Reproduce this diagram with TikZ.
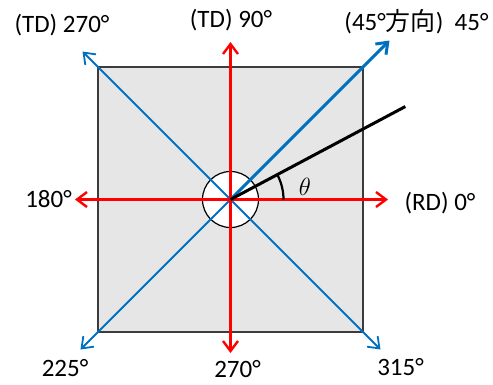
\documentclass[tikz,border=0pt]{standalone}
\usepackage{fontspec}
\setmainfont{Carlito}
\newfontfamily\cjk{Noto Sans CJK JP}
\usetikzlibrary{arrows.meta,positioning}
\definecolor{axisred}{RGB}{255,0,0}
\definecolor{diagblue}{RGB}{0,112,192}
\definecolor{platefill}{RGB}{230,230,230}
\definecolor{plateedge}{RGB}{60,60,60}

\begin{document}
\begin{tikzpicture}[
    x=1pt, y=1pt,
    barb/.style={-{Straight Barb[length=10pt,width=15pt]}},
    redarrow/.style={barb, draw=axisred, line width=2.4pt},
    bluearrow/.style={barb, draw=diagblue, line width=1.8pt},
    anglabel/.style={font=\fontsize{25}{28}\selectfont, inner sep=0pt},
    every node/.style={inner sep=0pt}
]
% --- sizes (pure numbers, unit pt = pixel) ---
\def\half{132.5}  % half side of the plate
\def\hubr{28}     % radius of the hub circle
\def\arcr{53}     % radius of the theta arc

% ---- page frame ----
\useasboundingbox (-230.5,-184.5) rectangle (262.5,199.5);

% ---- plate and hub ----
\coordinate (O) at (0,0);
\node[draw=plateedge, fill=platefill, line width=1.5pt,
    minimum size=2*\half pt] (plate) at (O) {};
\node[circle, draw, fill=white, line width=1.2pt,
    minimum size=2*\hubr pt] (hub) at (O) {};

% ---- arrow ends ----
\coordinate (E)  at (157.5,0);
\coordinate (W)  at (-155.5,0);
\coordinate (N)  at (0,157.5);
\coordinate (S)  at (0,-153.5);
\coordinate (NE) at (159,159);
\coordinate (NW) at (-148,148);
\coordinate (SW) at (-150,-150);
\coordinate (SE) at (150,-150);
\coordinate (L)  at (28:198);

% ---- diagonals ----
\draw[bluearrow] (O) -- (NW);
\draw[bluearrow] (O) -- (SW);
\draw[bluearrow] (O) -- (SE);
\draw[bluearrow, line width=3pt] (O) -- (NE);

% ---- RD / TD axes ----
\draw[redarrow] (O) -- (E);
\draw[redarrow] (O) -- (W);
\draw[redarrow] (O) -- (N);
\draw[redarrow] (O) -- (S);

% ---- tilted direction and angle ----
\draw[line width=3pt] (O) -- (L);
\draw[line width=2.2pt] (\arcr,0) arc[start angle=0, end angle=28, radius=\arcr];
\node[font=\fontsize{30}{34}\selectfont] (theta) at (74.5,12.5) {$\theta$};

% ---- labels ----
\node[anglabel] (lblNW) at (-168.5,174.5) {(TD) 270°};
\node[anglabel] (lblN)  at (0.5,179.5)    {(TD) 90°};
\node[anglabel] (lblNE) at (186,177.5)    {(45°{\cjk 方向}) \ 45°};
\node[anglabel] (lblW)  at (-182,0)       {180°};
\node[anglabel] (lblE)  at (209.5,-3.5)   {(RD) 0°};
\node[anglabel] (lblSW) at (-165.5,-168.5) {225°};
\node[anglabel] (lblS)  at (7,-169.5)     {270°};
\node[anglabel] (lblSE) at (170,-167.5)   {315°};

\end{tikzpicture}
\end{document}
